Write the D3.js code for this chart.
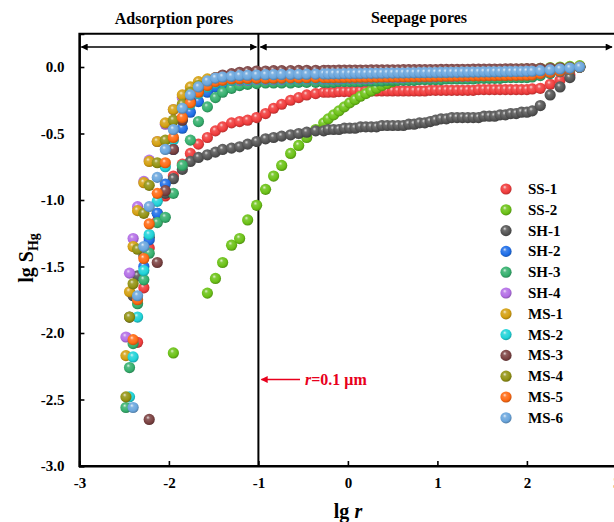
<!DOCTYPE html>
<html><head><meta charset="utf-8">
<script src="https://cdn.jsdelivr.net/npm/d3@7"></script>
<style>
body{margin:0;background:#fff;}
text{font-family:"Liberation Serif","Times New Roman",serif;font-weight:bold;fill:#000;}
</style>
</head><body>
<svg id="chart" width="614" height="522"></svg>
<script>
// shared mercury-intrusion pressure steps, expressed as lg r
const lgR = [-2.48,-2.44,-2.40,-2.35,-2.28,-2.22,-2.13,-2.04,-1.95,-1.85,-1.76,-1.67,-1.57,-1.48,-1.40,-1.30,-1.21,-1.12,-1.02,-0.92,-0.83,-0.74,-0.64,-0.55,-0.46,-0.36,-0.27,
 -0.22,-0.16,-0.10,-0.04,0.02,0.08,0.14,0.20,0.26,0.32,0.38,0.44,0.50,0.56,0.62,0.68,0.74,0.80,0.86,0.92,0.98,1.04,1.10,1.16,1.22,1.28,1.34,1.40,1.46,1.52,1.58,1.64,1.70,1.76,1.82,1.88,1.94,2.00,2.06,
 2.15,2.26,2.37,2.48,2.59];

const sampleNames = ["SS-1","SS-2","SH-1","SH-2","SH-3","SH-4","MS-1","MS-2","MS-3","MS-4","MS-5","MS-6"];

const lgS_SS1 = [null,null,null,-2.07,-1.66,-1.36,-1.16,-0.97,-0.82,-0.73,-0.65,-0.58,-0.53,-0.48,-0.45,-0.42,-0.41,-0.40,-0.38,-0.35,-0.31,-0.28,-0.25,-0.23,-0.21,-0.20,-0.19,
 -0.19,-0.19,-0.185,-0.185,-0.185,-0.18,-0.18,-0.18,-0.18,-0.18,-0.18,-0.18,-0.18,-0.18,-0.18,-0.18,-0.18,-0.18,-0.18,-0.175,-0.175,-0.175,-0.175,-0.175,-0.175,-0.175,-0.175,-0.175,-0.17,-0.17,-0.17,-0.17,-0.17,-0.17,-0.17,-0.17,-0.17,-0.17,-0.165,
 -0.16,-0.13,-0.10,-0.06,0];
const lgS_SS2 = [null,null,null,null,null,null,null,null,-2.15,null,null,null,-1.70,-1.59,-1.47,-1.34,-1.29,-1.15,-1.04,-0.92,-0.82,-0.74,-0.65,-0.59,-0.53,-0.47,-0.42,
 -0.39,-0.36,-0.33,-0.30,-0.27,-0.245,-0.22,-0.20,-0.18,-0.16,-0.14,-0.125,-0.11,-0.095,-0.08,-0.065,-0.05,-0.04,-0.035,-0.03,-0.03,-0.03,-0.028,-0.028,-0.026,-0.026,-0.025,-0.024,-0.023,-0.022,-0.021,-0.02,-0.02,-0.019,-0.018,-0.017,-0.016,-0.015,-0.015,
 -0.01,-0.005,0.0,0.005,0.01];
const lgS_SH1 = [null,-1.88,-1.72,-1.57,-1.42,-1.28,-1.10,-0.95,-0.84,-0.77,-0.71,-0.68,-0.66,-0.64,-0.62,-0.61,-0.60,-0.58,-0.56,-0.54,-0.53,-0.52,-0.51,-0.50,-0.49,-0.48,-0.48,
 -0.47,-0.47,-0.47,-0.46,-0.46,-0.46,-0.45,-0.45,-0.45,-0.45,-0.44,-0.44,-0.44,-0.44,-0.44,-0.43,-0.43,-0.42,-0.42,-0.41,-0.40,-0.39,-0.39,-0.38,-0.38,-0.38,-0.38,-0.38,-0.38,-0.37,-0.37,-0.37,-0.36,-0.36,-0.35,-0.35,-0.34,-0.34,-0.33,
 -0.29,-0.21,-0.15,-0.08,0];
const lgS_SH2 = [null,null,null,null,-1.50,-1.30,-1.10,-0.88,-0.62,-0.46,-0.34,-0.26,-0.19,-0.15,-0.13,-0.12,-0.11,-0.105,-0.10,-0.10,-0.10,-0.095,-0.095,-0.095,-0.09,-0.09,-0.09,
 -0.09,-0.09,-0.09,-0.09,-0.09,-0.085,-0.085,-0.085,-0.085,-0.085,-0.08,-0.08,-0.08,-0.08,-0.08,-0.08,-0.08,-0.075,-0.075,-0.075,-0.075,-0.075,-0.075,-0.07,-0.07,-0.07,-0.07,-0.07,-0.07,-0.07,-0.065,-0.065,-0.065,-0.065,-0.065,-0.06,-0.06,-0.06,-0.06,
 -0.05,-0.04,-0.03,-0.015,0];
const lgS_SH3 = [-2.56,-2.26,-2.08,-1.78,-1.60,-1.40,-1.17,-1.13,-0.95,-0.74,-0.55,-0.41,-0.30,-0.23,-0.19,-0.16,-0.14,-0.13,-0.125,-0.12,-0.12,-0.12,-0.12,-0.115,-0.115,-0.115,-0.115,
 -0.115,-0.115,-0.11,-0.11,-0.11,-0.11,-0.11,-0.105,-0.105,-0.105,-0.105,-0.1,-0.1,-0.1,-0.1,-0.1,-0.1,-0.095,-0.095,-0.095,-0.095,-0.095,-0.09,-0.09,-0.09,-0.09,-0.09,-0.09,-0.085,-0.085,-0.085,-0.085,-0.085,-0.08,-0.08,-0.08,-0.08,-0.08,-0.075,
 -0.065,-0.05,-0.035,-0.02,0];
const lgS_SH4 = [-2.03,-1.55,-1.29,-1.05,-0.86,-0.70,-0.56,-0.43,-0.32,-0.23,-0.17,-0.14,-0.12,-0.11,-0.105,-0.10,-0.10,-0.10,-0.095,-0.095,-0.095,-0.095,-0.09,-0.09,-0.09,-0.09,-0.09,
 -0.09,-0.09,-0.09,-0.085,-0.085,-0.085,-0.085,-0.085,-0.085,-0.08,-0.08,-0.08,-0.08,-0.08,-0.08,-0.075,-0.075,-0.075,-0.075,-0.075,-0.075,-0.07,-0.07,-0.07,-0.07,-0.07,-0.07,-0.065,-0.065,-0.065,-0.065,-0.065,-0.06,-0.06,-0.06,-0.06,-0.055,-0.055,-0.055,
 -0.05,-0.04,-0.03,-0.015,0];
const lgS_MS1 = [-2.17,-1.69,-1.35,-1.08,-0.87,-0.71,-0.56,-0.42,-0.32,-0.21,-0.15,-0.11,-0.09,-0.08,-0.075,-0.07,-0.07,-0.07,-0.07,-0.07,-0.07,-0.068,-0.068,-0.066,-0.066,-0.065,-0.065,
 -0.065,-0.065,-0.065,-0.06,-0.06,-0.06,-0.06,-0.06,-0.06,-0.06,-0.058,-0.058,-0.058,-0.056,-0.056,-0.056,-0.055,-0.055,-0.055,-0.055,-0.054,-0.054,-0.053,-0.053,-0.052,-0.052,-0.05,-0.05,-0.05,-0.05,-0.048,-0.048,-0.046,-0.046,-0.045,-0.045,-0.044,-0.042,-0.04,
 -0.035,-0.03,-0.02,-0.01,0];
const lgS_MS2 = [null,-2.48,-2.18,-1.88,-1.53,-1.26,-1.01,-0.75,-0.55,-0.40,-0.28,-0.20,-0.15,-0.12,-0.11,-0.10,-0.095,-0.095,-0.09,-0.09,-0.09,-0.09,-0.088,-0.088,-0.086,-0.086,-0.085,
 -0.085,-0.085,-0.084,-0.084,-0.082,-0.082,-0.08,-0.08,-0.08,-0.078,-0.078,-0.076,-0.076,-0.075,-0.075,-0.074,-0.073,-0.072,-0.071,-0.07,-0.07,-0.069,-0.068,-0.067,-0.066,-0.065,-0.064,-0.063,-0.062,-0.061,-0.06,-0.06,-0.059,-0.058,-0.057,-0.056,-0.055,-0.054,-0.053,
 -0.045,-0.035,-0.025,-0.012,0];
const lgS_MS3 = [null,null,null,null,null,-2.65,-1.47,-0.93,-0.62,-0.40,-0.26,-0.18,-0.12,-0.08,-0.06,-0.05,-0.04,-0.035,-0.03,-0.03,-0.028,-0.028,-0.027,-0.026,-0.025,-0.025,-0.025,
 -0.025,-0.025,-0.024,-0.024,-0.024,-0.023,-0.023,-0.023,-0.022,-0.022,-0.022,-0.021,-0.021,-0.021,-0.02,-0.02,-0.02,-0.02,-0.019,-0.019,-0.019,-0.018,-0.018,-0.018,-0.017,-0.017,-0.017,-0.016,-0.016,-0.016,-0.015,-0.015,-0.015,-0.014,-0.014,-0.013,-0.013,-0.012,-0.012,
 -0.01,-0.008,-0.006,-0.003,0];
const lgS_MS4 = [-2.48,-1.88,-1.63,-1.37,-1.10,-0.89,-0.72,-0.55,-0.40,-0.28,-0.19,-0.14,-0.11,-0.09,-0.08,-0.075,-0.075,-0.072,-0.072,-0.07,-0.07,-0.07,-0.068,-0.068,-0.068,-0.066,-0.066,
 -0.066,-0.065,-0.065,-0.064,-0.064,-0.063,-0.062,-0.062,-0.061,-0.06,-0.06,-0.059,-0.058,-0.058,-0.057,-0.056,-0.056,-0.055,-0.054,-0.054,-0.053,-0.052,-0.052,-0.051,-0.05,-0.05,-0.049,-0.048,-0.048,-0.047,-0.046,-0.046,-0.045,-0.044,-0.044,-0.043,-0.042,-0.041,-0.04,
 -0.035,-0.028,-0.02,-0.01,0];
const lgS_MS5 = [null,null,-2.05,-1.75,-1.44,-1.18,-0.95,-0.72,-0.53,-0.38,-0.27,-0.19,-0.14,-0.11,-0.10,-0.09,-0.088,-0.086,-0.085,-0.085,-0.084,-0.083,-0.082,-0.082,-0.081,-0.08,-0.08,
 -0.08,-0.08,-0.079,-0.079,-0.078,-0.078,-0.077,-0.077,-0.076,-0.076,-0.075,-0.075,-0.074,-0.074,-0.073,-0.073,-0.072,-0.072,-0.071,-0.071,-0.07,-0.07,-0.069,-0.069,-0.068,-0.068,-0.067,-0.067,-0.066,-0.066,-0.065,-0.065,-0.064,-0.064,-0.063,-0.063,-0.062,-0.062,-0.06,
 -0.05,-0.04,-0.03,-0.015,0];
const lgS_MS6 = [null,null,-2.56,-1.72,-1.35,-1.05,-0.83,-0.62,-0.47,-0.31,-0.21,-0.15,-0.105,-0.083,-0.075,-0.07,-0.065,-0.062,-0.06,-0.058,-0.057,-0.056,-0.055,-0.055,-0.054,-0.053,-0.052,
 -0.052,-0.051,-0.051,-0.05,-0.05,-0.049,-0.049,-0.048,-0.048,-0.047,-0.047,-0.046,-0.046,-0.045,-0.045,-0.044,-0.044,-0.043,-0.043,-0.042,-0.042,-0.041,-0.041,-0.04,-0.04,-0.039,-0.039,-0.038,-0.038,-0.037,-0.037,-0.036,-0.036,-0.035,-0.035,-0.034,-0.034,-0.033,-0.032,
 -0.028,-0.022,-0.015,-0.008,0];

const seriesValues = [lgS_SS1,lgS_SS2,lgS_SH1,lgS_SH2,lgS_SH3,lgS_SH4,lgS_MS1,lgS_MS2,lgS_MS3,lgS_MS4,lgS_MS5,lgS_MS6];

const xTickValues = [-3,-2,-1,0,1,2,3];
const xTickLabels = ["-3","-2","-1","0","1","2","3"];
const yTickValues = [0,-0.5,-1,-1.5,-2,-2.5,-3];
const yTickLabels = ["0.0","-0.5","-1.0","-1.5","-2.0","-2.5","-3.0"];
const regionLabels = ["Adsorption pores","Seepage pores"];
const boundaryLgR = -1;
const annotationLgS = -2.35;

// styles
const colors = ["#f03c3c","#6cc217","#555555","#1f6ee8","#36b06e","#b46fe6","#d4a011","#1fd3d8","#7b4242","#939313","#ff6a13","#6aa6dd"];

const svg = d3.select("#chart");
const W = 614, H = 522;
const x = d3.scaleLinear().domain([-3,3]).range([79.4,616.4]);
const y = d3.scaleLinear().domain([-3,0.25]).range([466,33.75]);

const defs = svg.append("defs");
colors.forEach((c,i)=>{
  const g = defs.append("radialGradient").attr("id","bead"+i)
    .attr("cx","45%").attr("cy","42%").attr("r","60%").attr("fx","38%").attr("fy","32%");
  g.append("stop").attr("offset","0%").attr("stop-color", d3.interpolateRgb(c,"#ffffff")(0.8));
  g.append("stop").attr("offset","28%").attr("stop-color", d3.interpolateRgb(c,"#ffffff")(0.15));
  g.append("stop").attr("offset","70%").attr("stop-color", c);
  g.append("stop").attr("offset","100%").attr("stop-color", d3.color(c).darker(0.9));
});
function arrowMarker(id, color, orient){
  defs.append("marker").attr("id",id).attr("viewBox","0 0 10 10").attr("refX",9).attr("refY",5)
    .attr("markerWidth",8).attr("markerHeight",7).attr("markerUnits","userSpaceOnUse")
    .attr("orient",orient)
    .append("path").attr("d","M0,0L10,5L0,10z").attr("fill",color);
}
arrowMarker("arrEnd","#000","auto");
arrowMarker("arrStart","#000","auto-start-reverse");
arrowMarker("arrRed","#e8001c","auto");

const plotTop = y(0.25), plotBottom = y(-3);

// frame
svg.append("rect").attr("x",x(-3)).attr("y",plotTop).attr("width",x(3)-x(-3)).attr("height",plotBottom-plotTop)
  .attr("fill","none").attr("stroke","#000").attr("stroke-width",2);

// axes (inward ticks)
const xAxis = d3.axisBottom(x).tickValues(xTickValues).tickSize(-5).tickPadding(11)
  .tickFormat((d,i)=>xTickLabels[i]);
const gx = svg.append("g").attr("transform",`translate(0,${plotBottom})`).call(xAxis);
const yAxis = d3.axisLeft(y).tickValues(yTickValues).tickSize(-5).tickPadding(15)
  .tickFormat((d,i)=>yTickLabels[i]);
const gy = svg.append("g").attr("transform",`translate(${x(-3)},0)`).call(yAxis);
[gx,gy].forEach(g=>{
  g.select(".domain").attr("stroke","#000").attr("stroke-width",2);
  g.selectAll(".tick line").attr("stroke","#000").attr("stroke-width",1.6);
  g.selectAll(".tick text").attr("font-family","Liberation Serif, serif").attr("font-weight","bold")
    .attr("font-size",15).attr("fill","#000");
});

// boundary line r = 0.1 um
svg.append("line").attr("x1",x(boundaryLgR)).attr("x2",x(boundaryLgR)).attr("y1",plotTop).attr("y2",plotBottom)
  .attr("stroke","#000").attr("stroke-width",2);

// double-headed region arrows
const arrowY = 47;
svg.append("line").attr("x1",x(-3)+2).attr("x2",x(boundaryLgR)-2).attr("y1",arrowY).attr("y2",arrowY)
  .attr("stroke","#000").attr("stroke-width",1.4).attr("marker-start","url(#arrStart)").attr("marker-end","url(#arrEnd)");
svg.append("line").attr("x1",x(boundaryLgR)+2).attr("x2",W-2).attr("y1",arrowY).attr("y2",arrowY)
  .attr("stroke","#000").attr("stroke-width",1.4).attr("marker-start","url(#arrStart)").attr("marker-end","url(#arrEnd)");

svg.append("text").attr("x",174).attr("y",24).attr("text-anchor","middle").attr("font-size",16).text(regionLabels[0]);
svg.append("text").attr("x",419).attr("y",23).attr("text-anchor","middle").attr("font-size",16).text(regionLabels[1]);

// data beads
const beadR = 5.6;
seriesValues.forEach((vals,si)=>{
  const pts = vals.map((v,k)=>({x:lgR[k], y:v})).filter(p=>p.y!==null);
  svg.append("g").selectAll("circle").data(pts).join("circle")
    .attr("cx",d=>x(d.x)).attr("cy",d=>y(d.y)).attr("r",beadR)
    .attr("fill",`url(#bead${si})`);
});

// red annotation
const annY = y(annotationLgS);
svg.append("line").attr("x1",300).attr("x2",x(boundaryLgR)+3).attr("y1",annY).attr("y2",annY)
  .attr("stroke","#e8001c").attr("stroke-width",1.4).attr("marker-end","url(#arrRed)");
const ann = svg.append("text").attr("x",305).attr("y",annY+5).attr("font-size",16)
  .style("fill","#e8001c").attr("font-weight","bold");
ann.append("tspan").attr("font-style","italic").text("r");
ann.append("tspan").text("=0.1 μm");

// legend
sampleNames.forEach((n,i)=>{
  const ly = 189 + i*20.8;
  svg.append("circle").attr("cx",506).attr("cy",ly).attr("r",beadR).attr("fill",`url(#bead${i})`);
  svg.append("text").attr("x",528).attr("y",ly+5).attr("font-size",15).text(n);
});

// axis titles
const xt = svg.append("text").attr("x",348).attr("y",518).attr("text-anchor","middle").attr("font-size",20);
xt.append("tspan").text("lg ");
xt.append("tspan").attr("font-style","italic").text("r");
const yt = svg.append("text").attr("transform","translate(33,258) rotate(-90)").attr("text-anchor","middle").attr("font-size",20);
yt.append("tspan").text("lg S");
yt.append("tspan").attr("font-size",14).attr("dy",5).text("Hg");
</script>
</body></html>
